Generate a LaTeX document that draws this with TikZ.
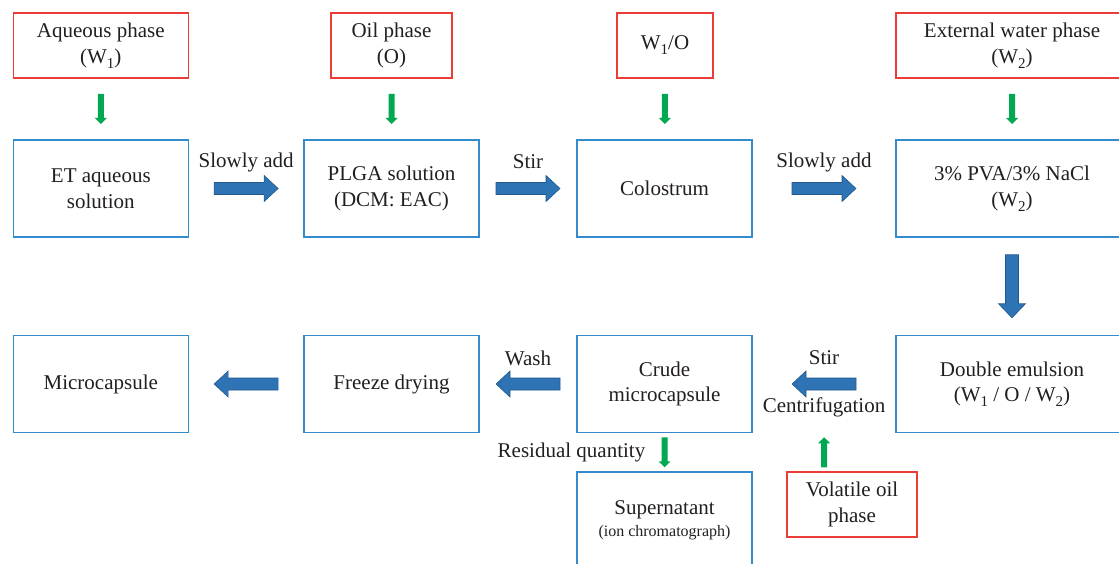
\documentclass[tikz,border=0pt]{standalone}
\usepackage{fontspec}
\setmainfont{Liberation Serif}
\usetikzlibrary{calc}
\definecolor{txt}{RGB}{35,31,32}
\definecolor{bbox}{RGB}{52,140,205}
\definecolor{rbox}{RGB}{236,60,56}
\definecolor{barr}{RGB}{46,116,181}
\definecolor{barrd}{RGB}{34,87,140}
\definecolor{garr}{RGB}{0,168,80}
\newcommand\sbs[1]{\raisebox{-5pt}{\fontsize{15}{15}\selectfont #1}}
\newcommand\gdown[1]{\fill[garrow] (#1) ++(-3,-15) -- ++(6,0) -- ++(0,24) -- ++(3,0) -- ++(-6,6) -- ++(-6,-6) -- ++(3,0) -- cycle;}
\newcommand\gup[1]{\fill[garrow] (#1) ++(-3,15) -- ++(6,0) -- ++(0,-24) -- ++(3,0) -- ++(-6,-6) -- ++(-6,6) -- ++(3,0) -- cycle;}
\newcommand\bright[1]{\filldraw[barrow] (#1) ++(-32,-6) -- ++(50,0) -- ++(0,-7) -- ++(14,13) -- ++(-14,13) -- ++(0,-7) -- ++(-50,0) -- cycle;}
\newcommand\bleft[1]{\filldraw[barrow] (#1) ++(32,-6) -- ++(-50,0) -- ++(0,-7) -- ++(-14,13) -- ++(14,13) -- ++(0,-7) -- ++(50,0) -- cycle;}
\newcommand\bdown[1]{\filldraw[barrow] (#1) ++(-6.5,-31.5) -- ++(13,0) -- ++(0,49) -- ++(7,0) -- ++(-13.5,14) -- ++(-13.5,-14) -- ++(7,0) -- cycle;}
\begin{document}
\begin{tikzpicture}[x=1pt,y=-1pt,
  every node/.style={font=\fontsize{21}{25.5}\selectfont, text=txt, align=center, inner sep=0pt},
  bluebox/.style={draw=bbox, line width=1.5pt, minimum width=175pt, minimum height=97pt},
  widebox/.style={minimum width=232pt},
  redbox/.style={draw=rbox, line width=1.5pt, minimum height=65pt},
  barrow/.style={fill=barr, draw=barrd, line width=0.6pt},
  garrow/.style={fill=garr}]
\clip (0,0) rectangle (1119,564);
\fill[white] (0,0) rectangle (1119,564);
% red boxes (top)
\node[redbox, minimum width=175pt] (aq)  at (100.8,45.5) {Aqueous phase\\(W\sbs{1})};
\node[redbox, minimum width=121pt] (oil) at (391.5,45.5) {Oil phase\\(O)};
\node[redbox, minimum width=96pt]  (w1o) at (665,45.5)   {W\sbs{1}/O};
\node[redbox, minimum width=232pt] (ext) at (1012,45.5)  {External water phase\\(W\sbs{2})};
% top row
\node[bluebox] (et)   at (100.8,188.5) {ET aqueous\\solution};
\node[bluebox] (plga) at (391.5,188.5) {PLGA solution\\(DCM: EAC)};
\node[bluebox] (colo) at (664.5,188.5) {Colostrum};
\node[bluebox, widebox] (pva) at (1012,188.5) {3\% PVA/3\% NaCl\\(W\sbs{2})};
% bottom row
\node[bluebox] (micro)  at (100.8,384) {Microcapsule};
\node[bluebox] (freeze) at (391.5,384) {Freeze drying};
\node[bluebox] (crude)  at (664.5,384) {Crude\\microcapsule};
\node[bluebox, widebox] (double) at (1012,384) {Double emulsion\\(W\sbs{1} / O / W\sbs{2})};
\node[bluebox] (super) at (664.5,520.5) {Supernatant\\[-3pt]{\fontsize{16}{19}\selectfont (ion chromatograph)}};
\node[redbox, minimum width=130pt] (vol) at (852,504.5) {Volatile oil\\phase};
% green arrows
\coordinate (g1) at ($(aq.south)!0.5!(et.north)$);
\coordinate (g2) at ($(oil.south)!0.5!(plga.north)$);
\coordinate (g3) at ($(w1o.south)!0.5!(colo.north)$);
\coordinate (g4) at ($(ext.south)!0.5!(pva.north)$);
\coordinate (g5) at ($(crude.south)!0.5!(super.north)$);
\gdown{g1}\gdown{g2}\gdown{g3}\gdown{g4}\gdown{g5}
% blue block arrows
\coordinate (m12) at ($(et.east)!0.5!(plga.west)$);
\coordinate (m23) at ($(plga.east)!0.5!(colo.west)$);
\coordinate (m34) at ($(colo.east)!0.5!(pva.west)$);
\coordinate (md)  at ($(pva.south)!0.5!(double.north)$);
\coordinate (n43) at ($(crude.east)!0.5!(double.west)$);
\coordinate (n32) at ($(freeze.east)!0.5!(crude.west)$);
\coordinate (n21) at ($(micro.east)!0.5!(freeze.west)$);
\bright{m12}\bright{m23}\bright{m34}
\bdown{md}
\bleft{n43}\bleft{n32}\bleft{n21}
% up arrow from volatile oil phase
\coordinate (gu) at (n43 |- g5);
\gup{gu}
% labels
\node (l1) at ($(m12)+(0,-26.5)$) {Slowly add};
\node (l2) at ($(m23)+(0,-26.5)$) {Stir};
\node (l3) at ($(m34)+(0,-26.5)$) {Slowly add};
\node (l4) at ($(n32)+(0,-26)$) {Wash};
\node (l5) at ($(n43)+(0,-26)$) {Stir};
\node (l6) at ($(n43)+(0,23)$) {Centrifugation};
\node[anchor=east] (l7) at ($(g5)+(-19,0)$) {Residual quantity};
\end{tikzpicture}
\end{document}
